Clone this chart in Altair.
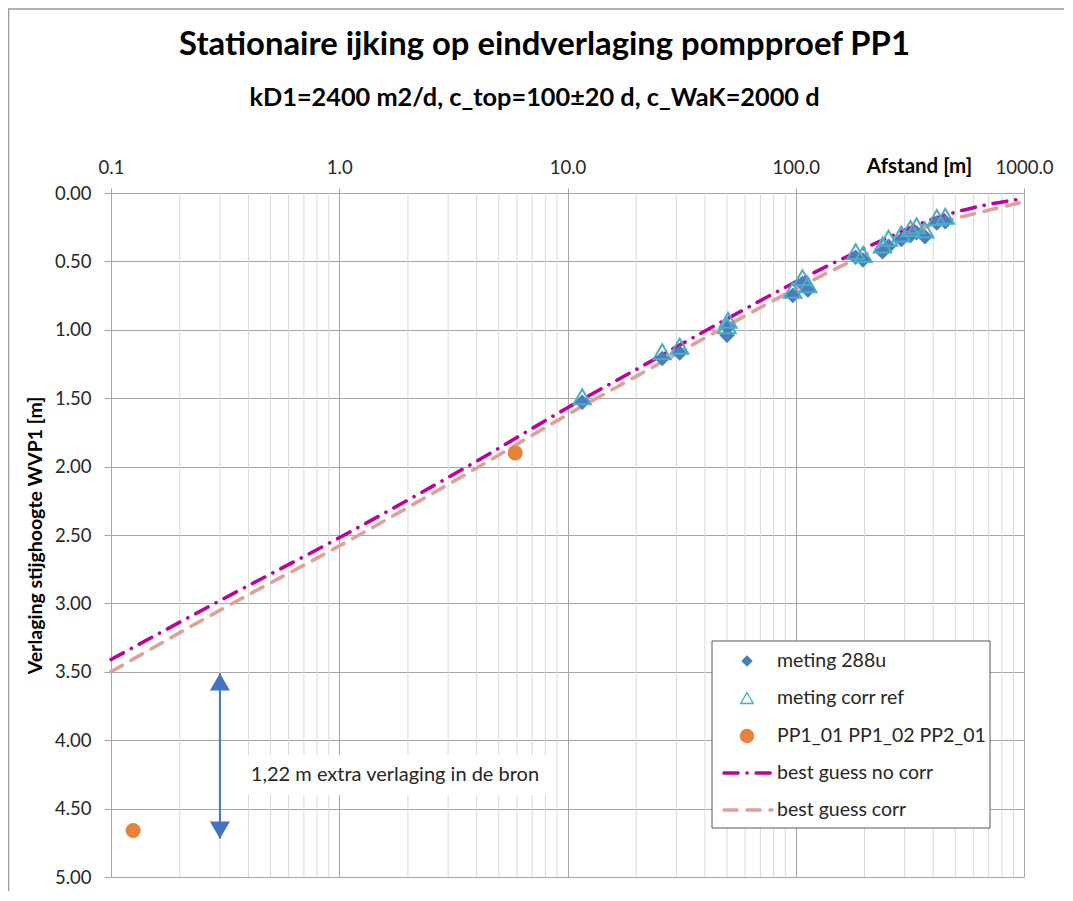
import altair as alt
import pandas as pd

FONT = "Lato"

# ---------------- texts ----------------
title_text = "Stationaire ijking op eindverlaging pompproef PP1"
subtitle_text = "kD1=2400 m2/d, c_top=100±20 d, c_WaK=2000 d"
x_title = "Afstand [m]"
y_title = "Verlaging stijghoogte WVP1 [m]"
legend_labels = ["meting 288u", "meting corr ref", "PP1_01 PP1_02 PP2_01",
                 "best guess no corr", "best guess corr"]
annotation_text = "1,22 m extra verlaging in de bron"

# ---------------- data ----------------
afstand_meting = [11.6, 26.0, 31.0, 50.0, 50.5, 97.0, 107.0, 113.0, 183.0, 197.0,
                  240.0, 255.0, 290.0, 318.0, 338.0, 368.0, 415.0, 452.0]
meting_288u = [1.53, 1.21, 1.17, 1.04, 0.98, 0.75, 0.66, 0.71, 0.47, 0.49,
               0.43, 0.39, 0.34, 0.31, 0.29, 0.32, 0.22, 0.21]
meting_corr_ref = [1.49, 1.16, 1.12, 0.97, 0.93, 0.71, 0.62, 0.67, 0.43, 0.45,
                   0.38, 0.33, 0.30, 0.26, 0.24, 0.27, 0.18, 0.17]
afstand_pp = [0.125, 5.9]
verlaging_pp = [4.66, 1.90]

afstand_lijn = [0.1, 0.3, 1, 4, 10, 20, 50, 100, 200, 400, 600, 1000]
best_guess_no_corr = [3.41, 2.98, 2.52, 1.96, 1.57, 1.29, 0.92, 0.65, 0.405, 0.19, 0.107, 0.04]
best_guess_corr = [3.50, 3.05, 2.58, 2.01, 1.62, 1.34, 0.97, 0.70, 0.453, 0.23, 0.153, 0.064]

# annotation (data coordinates)
arrow_x = [0.3]
arrow_top = [3.51]
arrow_bottom = [4.72]
annot_x = [0.41]
annot_y = [4.255]
annot_box_x = [0.379]
annot_box_x2 = [8.2]
annot_box_y = [4.108]
annot_box_y2 = [4.40]

# axes
x_major = [0.1, 1, 10, 100, 1000]
x_minor = [0.2, 0.3, 0.4, 0.5, 0.6, 0.7, 0.8, 0.9,
           2, 3, 4, 5, 6, 7, 8, 9,
           20, 30, 40, 50, 60, 70, 80, 90,
           200, 300, 400, 500, 600, 700, 800, 900]
y_ticks = [0.0, 0.5, 1.0, 1.5, 2.0, 2.5, 3.0, 3.5, 4.0, 4.5, 5.0]

# colours
C_DIAMOND = "#4A7EBB"
C_TRIANGLE = "#4BACC6"
C_ORANGE = "#E8823A"
C_MAGENTA = "#C0009E"
C_PINK = "#E0A09A"
C_ARROW = "#4472C4"
C_GRID = "#A6A6A6"
C_MINOR = "#D9D9D9"
C_TEXT = "#262626"

W, H = 913, 684

xscale = alt.Scale(type="log", domain=[0.1, 1000], nice=False)
yscale = alt.Scale(domain=[0, 5], reverse=True, nice=False, zero=False)

xaxis = alt.Axis(orient="top", values=x_major, format=".1f", labelFlush=False,
                 grid=True, gridColor=C_GRID, gridWidth=1, domain=False,
                 ticks=True, tickSize=5, tickColor=C_GRID,
                 labelFont=FONT, labelFontSize=18.5, labelColor=C_TEXT, labelPadding=11,
                 title=x_title, titleFont=FONT, titleFontSize=20.5, titleFontWeight="bold",
                 titleColor="#000000", titleX=808, titleY=-21, titleAlign="center",
                 titleBaseline="alphabetic")
yaxis = alt.Axis(values=y_ticks, format=".2f", grid=True, gridColor=C_GRID, gridWidth=1,
                 domain=False, ticks=True, tickSize=7, tickColor=C_GRID,
                 labelFont=FONT, labelFontSize=18.5, labelColor=C_TEXT, labelPadding=13,
                 title=y_title, titleFont=FONT, titleFontSize=19.5, titleFontWeight="bold",
                 titleColor="#000000", titlePadding=9)

X = alt.X("r:Q", scale=xscale, axis=xaxis)
Y = alt.Y("s:Q", scale=yscale, axis=yaxis)

df_minor = pd.DataFrame({"r": x_minor})
df_meting = pd.DataFrame({"r": afstand_meting, "s": meting_288u})
df_corr = pd.DataFrame({"r": afstand_meting, "s": meting_corr_ref})
df_pp = pd.DataFrame({"r": afstand_pp, "s": verlaging_pp})
df_l1 = pd.DataFrame({"r": afstand_lijn, "s": best_guess_no_corr})
df_l2 = pd.DataFrame({"r": afstand_lijn, "s": best_guess_corr})
df_arrow = pd.DataFrame({"r": arrow_x, "s": arrow_top, "s2": arrow_bottom})
df_annot = pd.DataFrame({"r": annot_x, "s": annot_y, "t": [annotation_text]})
df_box = pd.DataFrame({"r": annot_box_x, "r2": annot_box_x2, "s": annot_box_y, "s2": annot_box_y2})
one = pd.DataFrame({"d": [0]})

DASH_NC = [14, 9, 0.1, 9]
DASH_C = [13, 10]

minor = alt.Chart(df_minor).mark_rule(color=C_MINOR, strokeWidth=1).encode(x=X)

line_nc = alt.Chart(df_l1).mark_line(color=C_MAGENTA, strokeWidth=3.6, strokeDash=DASH_NC,
                                     strokeCap="round", interpolate="monotone").encode(x=X, y=Y)
line_c = alt.Chart(df_l2).mark_line(color=C_PINK, strokeWidth=3.6, strokeDash=DASH_C,
                                    strokeCap="round", interpolate="monotone").encode(x=X, y=Y)

pts_meting = alt.Chart(df_meting).mark_point(shape="diamond", filled=True, size=240,
                                             color=C_DIAMOND, opacity=1).encode(x=X, y=Y)
pts_corr = alt.Chart(df_corr).mark_point(shape="triangle-up", filled=False, size=300,
                                         color=C_TRIANGLE, strokeWidth=2, opacity=1).encode(x=X, y=Y)
pts_pp = alt.Chart(df_pp).mark_point(shape="circle", filled=True, size=225,
                                     color=C_ORANGE, opacity=1).encode(x=X, y=Y)

arrow_line = alt.Chart(df_arrow).mark_rule(color=C_ARROW, strokeWidth=2).encode(
    x=X, y=alt.Y("s:Q", scale=yscale, axis=yaxis), y2=alt.Y2("s2:Q"))
arrow_head_top = alt.Chart(df_arrow).mark_point(shape="triangle-up", filled=True, size=400,
                                                color=C_ARROW, opacity=1, yOffset=8.66).encode(x=X, y=Y)
arrow_head_bot = alt.Chart(df_arrow).mark_point(shape="triangle-down", filled=True, size=400,
                                                color=C_ARROW, opacity=1, yOffset=-8.66).encode(
    x=X, y=alt.Y("s2:Q", scale=yscale, axis=yaxis))

annot_box = alt.Chart(df_box).mark_rect(color="white", opacity=1).encode(
    x=X, x2=alt.X2("r2:Q"), y=Y, y2=alt.Y2("s2:Q"))
annot_text = alt.Chart(df_annot).mark_text(font=FONT, fontSize=20, color=C_TEXT, align="left",
                                           baseline="middle").encode(x=X, y=Y, text="t:N")

# ---------------- legend (drawn as a boxed list) ----------------
LX0, LX1, LY0, LY1 = 601, 879, 448, 635
rows = [468, 505, 543, 580, 617]
SYMX, TXTX = 636, 666

leg_box = alt.Chart(one).mark_rect(fill="white", stroke="#595959", strokeWidth=1).encode(
    x=alt.value(LX0), x2=alt.value(LX1), y=alt.value(LY0), y2=alt.value(LY1))
leg_layers = [leg_box]
leg_layers.append(alt.Chart(one).mark_point(shape="diamond", filled=True, size=130, color=C_DIAMOND,
                                            opacity=1).encode(x=alt.value(SYMX), y=alt.value(rows[0])))
leg_layers.append(alt.Chart(one).mark_point(shape="triangle-up", filled=False, size=160, color=C_TRIANGLE,
                                            strokeWidth=1.3, opacity=1).encode(x=alt.value(SYMX), y=alt.value(rows[1])))
leg_layers.append(alt.Chart(one).mark_point(shape="circle", filled=True, size=210, color=C_ORANGE,
                                            opacity=1).encode(x=alt.value(SYMX), y=alt.value(rows[2])))
leg_layers.append(alt.Chart(one).mark_rule(color=C_MAGENTA, strokeWidth=3.6, strokeDash=DASH_NC,
                                           strokeCap="round").encode(
    x=alt.value(SYMX - 23), x2=alt.value(SYMX + 25), y=alt.value(rows[3])))
leg_layers.append(alt.Chart(one).mark_rule(color=C_PINK, strokeWidth=3.6, strokeDash=DASH_C,
                                           strokeCap="round").encode(
    x=alt.value(SYMX - 23), x2=alt.value(SYMX + 25), y=alt.value(rows[4])))
for i, lab in enumerate(legend_labels):
    leg_layers.append(
        alt.Chart(pd.DataFrame({"label": [lab]})).mark_text(
            font=FONT, fontSize=19.5, color=C_TEXT, align="left", baseline="middle"
        ).encode(x=alt.value(TXTX), y=alt.value(rows[i]), text="label:N")
    )

# ---------------- title and subtitle ----------------
title_mark = alt.Chart(pd.DataFrame({"t": [title_text]})).mark_text(
    font=FONT, fontSize=32.8, fontWeight="bold", color="#000000", align="center",
    baseline="alphabetic").encode(x=alt.value(433.5), y=alt.value(-138.5), text="t:N")
subtitle_mark = alt.Chart(pd.DataFrame({"t": [subtitle_text]})).mark_text(
    font=FONT, fontSize=25.3, fontWeight="bold", color="#000000", align="center",
    baseline="alphabetic").encode(x=alt.value(423.5), y=alt.value(-87.5), text="t:N")

# outer chart border
border = alt.Chart(one).mark_rect(fill="transparent", stroke="#9A9A9A", strokeWidth=1.5).encode(
    x=alt.value(-102.5), x2=alt.value(1200), y=alt.value(-184), y2=alt.value(1200))

chart = alt.layer(
    minor, line_nc, line_c, pts_meting, pts_corr, pts_pp,
    arrow_line, arrow_head_top, arrow_head_bot, annot_box, annot_text,
    *leg_layers, title_mark, subtitle_mark, border
).properties(
    width=W, height=H,
    autosize=alt.AutoSizeParams(type="none"),
    padding={"left": 103, "top": 185, "right": 40, "bottom": 14},
    background="white",
).configure_view(stroke="transparent")

chart.save("out.html", embed_options={"renderer": "svg", "actions": False})
